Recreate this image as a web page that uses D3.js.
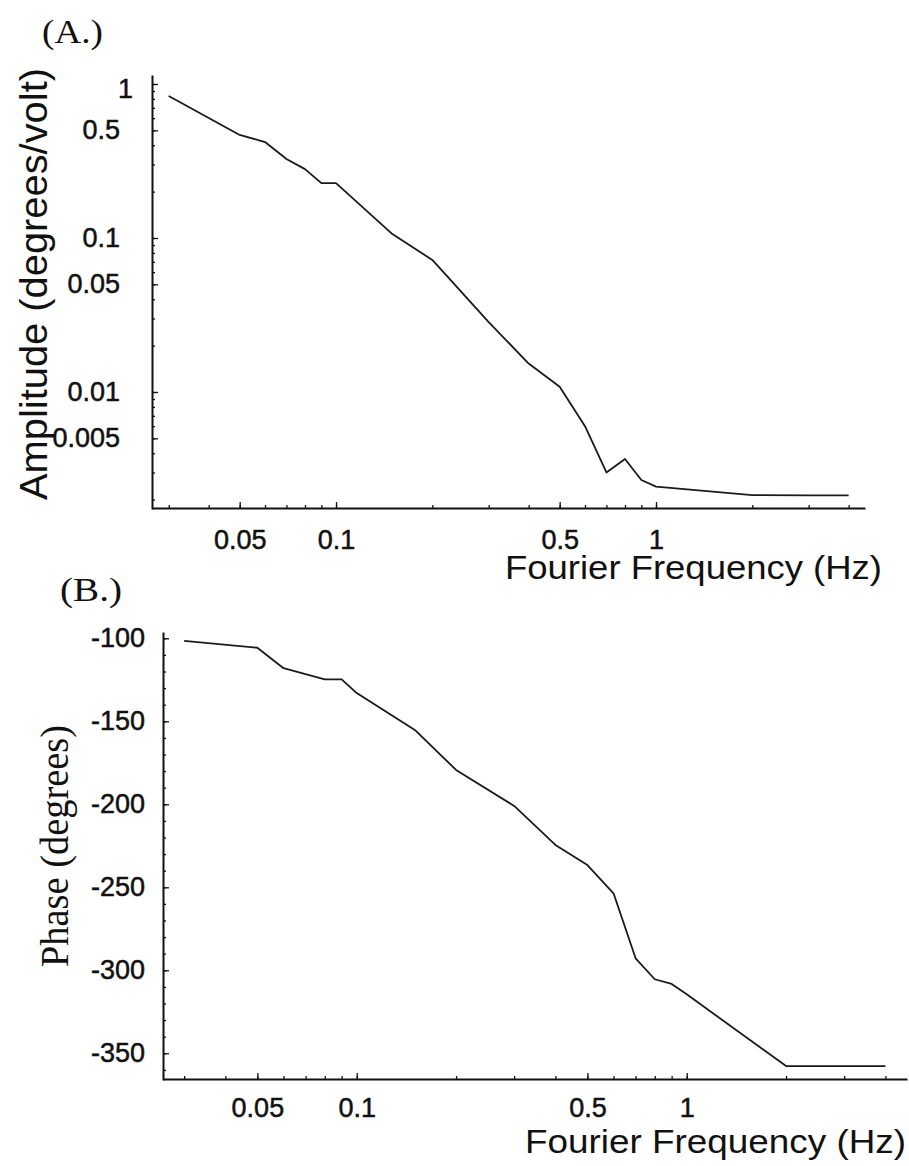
<!DOCTYPE html>
<html><head><meta charset="utf-8">
<script src="https://cdn.jsdelivr.net/npm/d3@7"></script>
<style>body{margin:0;background:#fff}</style>
</head><body>
<svg id="c" width="909" height="1166" xmlns="http://www.w3.org/2000/svg"></svg>
<script>
// ---- data ----
const ampFreq   = [0.03, 0.05, 0.06, 0.07, 0.08, 0.09, 0.1, 0.15, 0.2, 0.3, 0.4, 0.5, 0.6, 0.7, 0.8, 0.9, 1, 2, 3, 4];
const ampValues = [0.835, 0.467, 0.42, 0.326, 0.28, 0.227, 0.227, 0.106, 0.072, 0.0284, 0.0153, 0.0108, 0.006, 0.003, 0.00367, 0.00268, 0.00243, 0.00214, 0.00213, 0.00213];
const phaseFreq   = [0.03, 0.05, 0.06, 0.08, 0.09, 0.1, 0.15, 0.2, 0.3, 0.4, 0.5, 0.6, 0.7, 0.8, 0.9, 1, 2, 3, 4];
const phaseValues = [-101.6, -105.7, -118, -124.7, -124.7, -133, -155.2, -179.3, -201, -224.5, -236.6, -253.6, -292.8, -305.4, -308.2, -314.5, -357.7, -357.7, -357.7];
const xTickLabels = [0.05, 0.1, 0.5, 1];
const ampTickLabels = [1, 0.5, 0.1, 0.05, 0.01, 0.005];
const phaseTickLabels = [-100, -150, -200, -250, -300, -350];
const panelLabels = ["(A.)", "(B.)"];
const ampTitle = "Amplitude (degrees/volt)";
const phaseTitle = "Phase (degrees)";
const freqTitle = "Fourier Frequency (Hz)";

const svg = d3.select('#c');
const SANS = "'Liberation Sans', Arial, sans-serif";
const SERIF = "'Liberation Serif', 'Times New Roman', serif";
const fmt = d3.format('~g');

function logTicks(domain){
  const t = [];
  for (let e = -3; e <= 1; e++) for (let m = 1; m <= 9; m++) {
    const v = +(m * Math.pow(10, e)).toPrecision(3);
    if (v >= domain[0] && v <= domain[1]) t.push(v);
  }
  return t;
}
function styleAxis(g){
  g.select('.domain').attr('stroke', '#111').attr('stroke-width', 2);
  g.selectAll('.tick line').attr('stroke', '#111').attr('stroke-width', 1.3);
  g.selectAll('.tick text').attr('fill', '#111').attr('stroke', '#111').attr('stroke-width', 0.5)
    .style('font-family', SANS).style('font-size', '27px');
}
function majorTicks(g){
  g.select('.domain').remove();
  g.selectAll('line').attr('stroke', '#111').attr('stroke-width', 1.3);
}

// ---------- Panel A ----------
const xA = d3.scaleLog().domain([0.0266, 4.50]).range([152, 865]);
const yA = d3.scaleLog().domain([0.001738, 1.144]).range([509, 75]);

const gxA = svg.append('g').attr('transform', 'translate(0,508)')
  .call(d3.axisBottom(xA).tickValues(logTicks(xA.domain())).tickSize(-3).tickSizeOuter(0)
    .tickPadding(22).tickFormat(d => xTickLabels.includes(d) ? fmt(d) : ''));
styleAxis(gxA);
svg.append('g').attr('transform', 'translate(0,508)')
  .call(d3.axisBottom(xA).tickValues(xTickLabels).tickSize(-6).tickSizeOuter(0).tickFormat(''))
  .call(majorTicks);

const gyA = svg.append('g').attr('transform', 'translate(152,0)')
  .call(d3.axisLeft(yA).tickValues(logTicks(yA.domain())).tickSize(-3).tickSizeOuter(0)
    .tickPadding(32).tickFormat(d => ampTickLabels.includes(d) ? fmt(d) : ''));
styleAxis(gyA);
gyA.selectAll('.tick text').filter(d => d === 1).attr('x', -19).attr('dy', '0.5em');
svg.append('g').attr('transform', 'translate(152,0)')
  .call(d3.axisLeft(yA).tickValues(ampTickLabels).tickSize(-6).tickSizeOuter(0).tickFormat(''))
  .call(majorTicks);

svg.append('path')
  .datum(ampFreq.map((f, i) => [f, ampValues[i]]))
  .attr('fill', 'none').attr('stroke', '#1a1a1a').attr('stroke-width', 1.8).attr('stroke-linejoin', 'round')
  .attr('d', d3.line().x(d => xA(d[0])).y(d => yA(d[1])));

svg.append('text').attr('x', 42).attr('y', 43).text(panelLabels[0])
  .style('font-family', SERIF).style('font-size', '34px').attr('textLength', 61).attr('lengthAdjust', 'spacingAndGlyphs').attr('fill', '#111');
svg.append('text').attr('transform', 'translate(47,284) rotate(-90)').attr('text-anchor', 'middle').text(ampTitle)
  .style('font-family', SANS).style('font-size', '39px').attr('textLength', 432).attr('lengthAdjust', 'spacingAndGlyphs').attr('fill', '#111');
svg.append('text').attr('x', 505).attr('y', 579).text(freqTitle)
  .style('font-family', SANS).style('font-size', '33px').attr('textLength', 377).attr('lengthAdjust', 'spacingAndGlyphs').attr('fill', '#111');

// ---------- Panel B ----------
const xB = d3.scaleLog().domain([0.02588, 4.65]).range([163, 907]);
const yB = d3.scaleLinear().domain([-366.1, -96.2]).range([1080, 632]);

const gxB = svg.append('g').attr('transform', 'translate(0,1079)')
  .call(d3.axisBottom(xB).tickValues(logTicks(xB.domain())).tickSize(-3).tickSizeOuter(0)
    .tickPadding(19).tickFormat(d => xTickLabels.includes(d) ? fmt(d) : ''));
styleAxis(gxB);
svg.append('g').attr('transform', 'translate(0,1079)')
  .call(d3.axisBottom(xB).tickValues(xTickLabels).tickSize(-6).tickSizeOuter(0).tickFormat(''))
  .call(majorTicks);

const gyB = svg.append('g').attr('transform', 'translate(163,0)')
  .call(d3.axisLeft(yB).tickValues(d3.range(-360, -95, 10)).tickSize(-3).tickSizeOuter(0)
    .tickPadding(18).tickFormat(d => phaseTickLabels.includes(d) ? fmt(d).replace('−', '-') : ''));
styleAxis(gyB);
svg.append('g').attr('transform', 'translate(163,0)')
  .call(d3.axisLeft(yB).tickValues(phaseTickLabels).tickSize(-6).tickSizeOuter(0).tickFormat(''))
  .call(majorTicks);

svg.append('path')
  .datum(phaseFreq.map((f, i) => [f, phaseValues[i]]))
  .attr('fill', 'none').attr('stroke', '#1a1a1a').attr('stroke-width', 1.8).attr('stroke-linejoin', 'round')
  .attr('d', d3.line().x(d => xB(d[0])).y(d => yB(d[1])));

svg.append('text').attr('x', 60).attr('y', 601).text(panelLabels[1])
  .style('font-family', SERIF).style('font-size', '34px').attr('textLength', 62).attr('lengthAdjust', 'spacingAndGlyphs').attr('fill', '#111');
svg.append('text').attr('transform', 'translate(68,846) rotate(-90)').attr('text-anchor', 'middle').text(phaseTitle)
  .style('font-family', SERIF).style('font-size', '40px').attr('textLength', 242).attr('lengthAdjust', 'spacingAndGlyphs').attr('fill', '#111');
svg.append('text').attr('x', 525).attr('y', 1153).text(freqTitle)
  .style('font-family', SANS).style('font-size', '33px').attr('textLength', 381).attr('lengthAdjust', 'spacingAndGlyphs').attr('fill', '#111');
</script>
</body></html>
